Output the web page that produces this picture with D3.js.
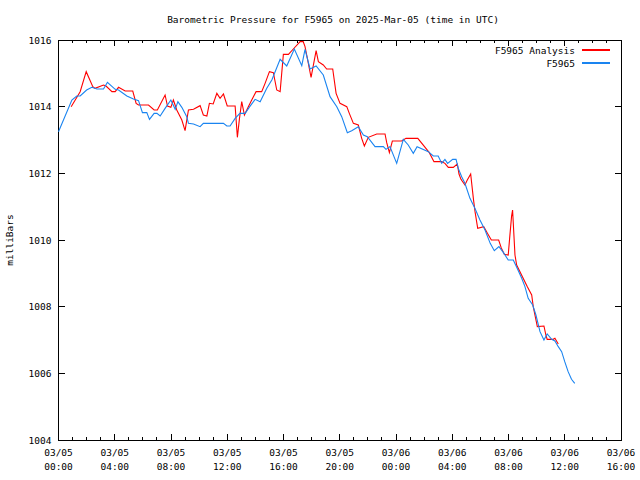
<!DOCTYPE html>
<html><head><meta charset="utf-8">
<script src="https://cdn.jsdelivr.net/npm/d3@7"></script>
<style>
body{margin:0;background:#fff}
text{font-family:"DejaVu Sans Mono","Liberation Mono",monospace;font-size:9.5px;fill:#000}
</style></head>
<body><svg id="c" width="640" height="480"></svg>
<script>
// Hours since 2025-03-05 00:00 UTC
const obsHours = [0.0,0.95,1.3,1.54,2.0,2.37,2.73,3.2,3.48,4.03,4.27,4.86,5.33,5.69,5.97,6.28,6.47,6.8,7.0,7.23,7.58,7.99,8.3,8.49,8.77,9.12,9.24,9.6,10.07,10.3,11.73,11.97,12.2,12.56,12.9,13.27,13.6,13.98,14.34,14.81,15.17,15.76,16.23,16.77,17.3,17.53,17.89,18.32,18.83,19.31,19.79,20.14,20.54,20.85,21.32,21.68,21.96,22.51,23.1,23.29,23.57,24.05,24.52,24.87,25.23,25.5,26.3,26.65,27.0,27.25,27.48,27.67,28.03,28.27,28.43,28.67,28.9,29.26,29.61,29.97,30.33,30.7,30.99,31.32,31.63,31.98,32.34,32.6,32.94,33.17,33.4,33.72,33.95,34.24,34.52,34.75,35.07,35.3,35.54,35.78,36.0,36.24,36.48,36.71];
const obsValues = [1013.25,1014.2,1014.32,1014.32,1014.5,1014.58,1014.53,1014.53,1014.73,1014.52,1014.5,1014.32,1014.23,1014.18,1013.82,1013.82,1013.62,1013.8,1013.8,1013.72,1013.95,1014.2,1013.92,1014.15,1013.98,1013.7,1013.5,1013.48,1013.4,1013.5,1013.5,1013.42,1013.42,1013.65,1013.8,1013.8,1014.0,1014.22,1014.15,1014.55,1014.8,1015.42,1015.22,1015.73,1015.23,1015.72,1015.13,1015.22,1014.95,1014.3,1014.0,1013.7,1013.22,1013.28,1013.4,1013.15,1013.1,1012.8,1012.8,1012.72,1012.8,1012.3,1013.02,1012.85,1012.6,1012.8,1012.65,1012.52,1012.52,1012.3,1012.42,1012.3,1012.42,1012.42,1012.15,1011.9,1011.7,1011.25,1010.95,1010.6,1010.3,1009.9,1009.68,1009.8,1009.63,1009.4,1009.4,1009.17,1008.85,1008.6,1008.25,1008.05,1007.75,1007.25,1007.0,1007.18,1007.02,1006.97,1006.8,1006.65,1006.35,1006.05,1005.82,1005.7];

const anaHours = [0.9,1.54,1.97,2.44,2.6,3.2,3.38,3.8,4.03,4.27,4.74,5.28,5.52,5.69,6.4,6.8,7.03,7.58,7.75,7.99,8.17,8.41,8.77,9.0,9.24,9.6,10.07,10.3,10.55,10.73,11.0,11.26,11.49,11.73,12.0,12.56,12.72,12.87,13.03,13.22,13.5,13.74,14.05,14.45,14.69,15.0,15.28,15.52,15.76,15.99,16.35,16.7,17.18,17.4,17.53,17.65,17.96,18.32,18.48,18.83,19.07,19.5,19.74,20.02,20.5,20.68,20.97,21.32,21.56,21.75,22.03,22.63,23.22,23.34,23.53,23.74,24.4,24.71,25.55,26.37,26.7,27.25,27.48,27.72,28.07,28.36,28.48,28.62,28.9,29.07,29.31,29.5,29.62,29.81,30.24,30.5,30.78,31.3,31.48,31.7,31.98,32.08,32.22,32.29,32.46,32.58,33.34,33.65,33.76,33.93,34.05,34.52,34.66,34.75,35.18,35.3,35.54];
const anaValues = [1014.0,1014.45,1015.05,1014.6,1014.55,1014.65,1014.62,1014.45,1014.45,1014.58,1014.47,1014.47,1014.1,1014.05,1014.05,1013.9,1013.9,1014.35,1014.02,1013.98,1014.2,1013.9,1013.6,1013.28,1013.9,1013.92,1014.03,1013.75,1013.72,1014.1,1014.08,1014.4,1014.25,1014.38,1014.02,1014.02,1013.08,1013.65,1014.15,1013.75,1014.0,1014.2,1014.45,1014.45,1014.7,1015.05,1015.02,1014.5,1014.45,1015.57,1015.57,1015.73,1015.95,1015.95,1015.8,1015.55,1014.88,1015.68,1015.35,1015.25,1015.13,1015.13,1014.4,1014.1,1014.0,1013.8,1013.5,1013.45,1013.05,1012.82,1013.08,1013.18,1013.18,1012.92,1012.62,1012.97,1012.97,1013.05,1013.05,1012.62,1012.35,1012.35,1012.3,1012.18,1012.18,1012.28,1011.98,1011.82,1011.65,1011.8,1011.98,1011.25,1010.85,1010.35,1010.4,1010.2,1010.0,1010.0,1009.77,1009.57,1009.55,1010.05,1010.72,1010.9,1009.55,1009.25,1008.6,1008.35,1008.0,1007.65,1007.4,1007.42,1007.15,1007.02,1007.02,1007.05,1006.88];

const yTicks = [1004,1006,1008,1010,1012,1014,1016];
const xMajorHours = [0,4,8,12,16,20,24,28,32,36,40];
const titleText = "Barometric Pressure for F5965 on 2025-Mar-05 (time in UTC)";
const yLabel = "milliBars";
const seriesNames = ["F5965 Analysis","F5965"];
const seriesColors = ["#ff0000","#1a84f0"];

const t0 = Date.UTC(2025,2,5,0,0);
const toDate = h => new Date(t0 + h*3600000);

const L=58.5, R=621, T=40, B=440;
const svg = d3.select("#c");
const x = d3.scaleUtc().domain([toDate(0), toDate(40)]).range([L,R]);
const y = d3.scaleLinear().domain([1004,1016]).range([B,T]);

const fmtD = d3.utcFormat("%m/%d"), fmtT = d3.utcFormat("%H:%M");
const minorTicks = d3.range(0,41).map(toDate);
const majorTicks = xMajorHours.map(toDate);

// bottom axis
const gB = svg.append("g").attr("transform",`translate(0,${B})`)
  .call(d3.axisBottom(x).tickValues(majorTicks).tickSize(0).tickPadding(9).tickFormat(""));
gB.select(".domain").remove();
gB.selectAll(".tick text").remove();
// labels
const lab = svg.append("g");
majorTicks.forEach(d=>{
  lab.append("text").attr("x",x(d)).attr("y",456).attr("text-anchor","middle").text(fmtD(d));
  lab.append("text").attr("x",x(d)).attr("y",470).attr("text-anchor","middle").text(fmtT(d));
});
// ticks (inward, both top and bottom)
const tickG = svg.append("g").attr("stroke","#000").attr("shape-rendering","crispEdges");
minorTicks.forEach((d,i)=>{
  const len = (i%4===0)?6:3;
  tickG.append("line").attr("x1",x(d)).attr("x2",x(d)).attr("y1",B).attr("y2",B-len);
  tickG.append("line").attr("x1",x(d)).attr("x2",x(d)).attr("y1",T).attr("y2",T+len);
});
// y axis
const gL = svg.append("g").attr("transform",`translate(${L},0)`)
  .call(d3.axisLeft(y).tickValues(yTicks).tickSize(0).tickPadding(7).tickFormat(d3.format("d")));
gL.select(".domain").remove();
gL.selectAll(".tick text").attr("dy","0.35em").style("font-family",'"DejaVu Sans Mono",monospace').style("font-size","9.5px").attr("fill","#000");
yTicks.forEach(v=>{
  tickG.append("line").attr("x1",L).attr("x2",L+6).attr("y1",y(v)).attr("y2",y(v));
  tickG.append("line").attr("x1",R).attr("x2",R-6).attr("y1",y(v)).attr("y2",y(v));
});
// frame
svg.append("rect").attr("x",L).attr("y",T).attr("width",R-L).attr("height",B-T)
  .attr("fill","none").attr("stroke","#000").attr("shape-rendering","crispEdges");

// lines
const line = d3.line().x(d=>x(toDate(d[0]))).y(d=>y(d[1]));
const anaData = anaHours.map((h,i)=>[h,anaValues[i]]);
const obsData = obsHours.map((h,i)=>[h,obsValues[i]]);
svg.append("path").datum(anaData).attr("d",line).attr("fill","none").attr("stroke",seriesColors[0]).attr("stroke-width",1.1);
svg.append("path").datum(obsData).attr("d",line).attr("fill","none").attr("stroke",seriesColors[1]).attr("stroke-width",1.1);

// title
svg.append("text").attr("x",333).attr("y",23).attr("text-anchor","middle").text(titleText);
// y label
svg.append("text").attr("transform","translate(13,240) rotate(-90)").attr("text-anchor","middle").text(yLabel);
// legend
seriesNames.forEach((n,i)=>{
  const yy = 50 + i*13;
  svg.append("text").attr("x",575).attr("y",yy+3.5).attr("text-anchor","end").text(n);
  svg.append("line").attr("x1",582).attr("x2",610).attr("y1",yy).attr("y2",yy)
    .attr("stroke",seriesColors[i]).attr("stroke-width",1.1).attr("shape-rendering","crispEdges");
});
</script></body></html>
